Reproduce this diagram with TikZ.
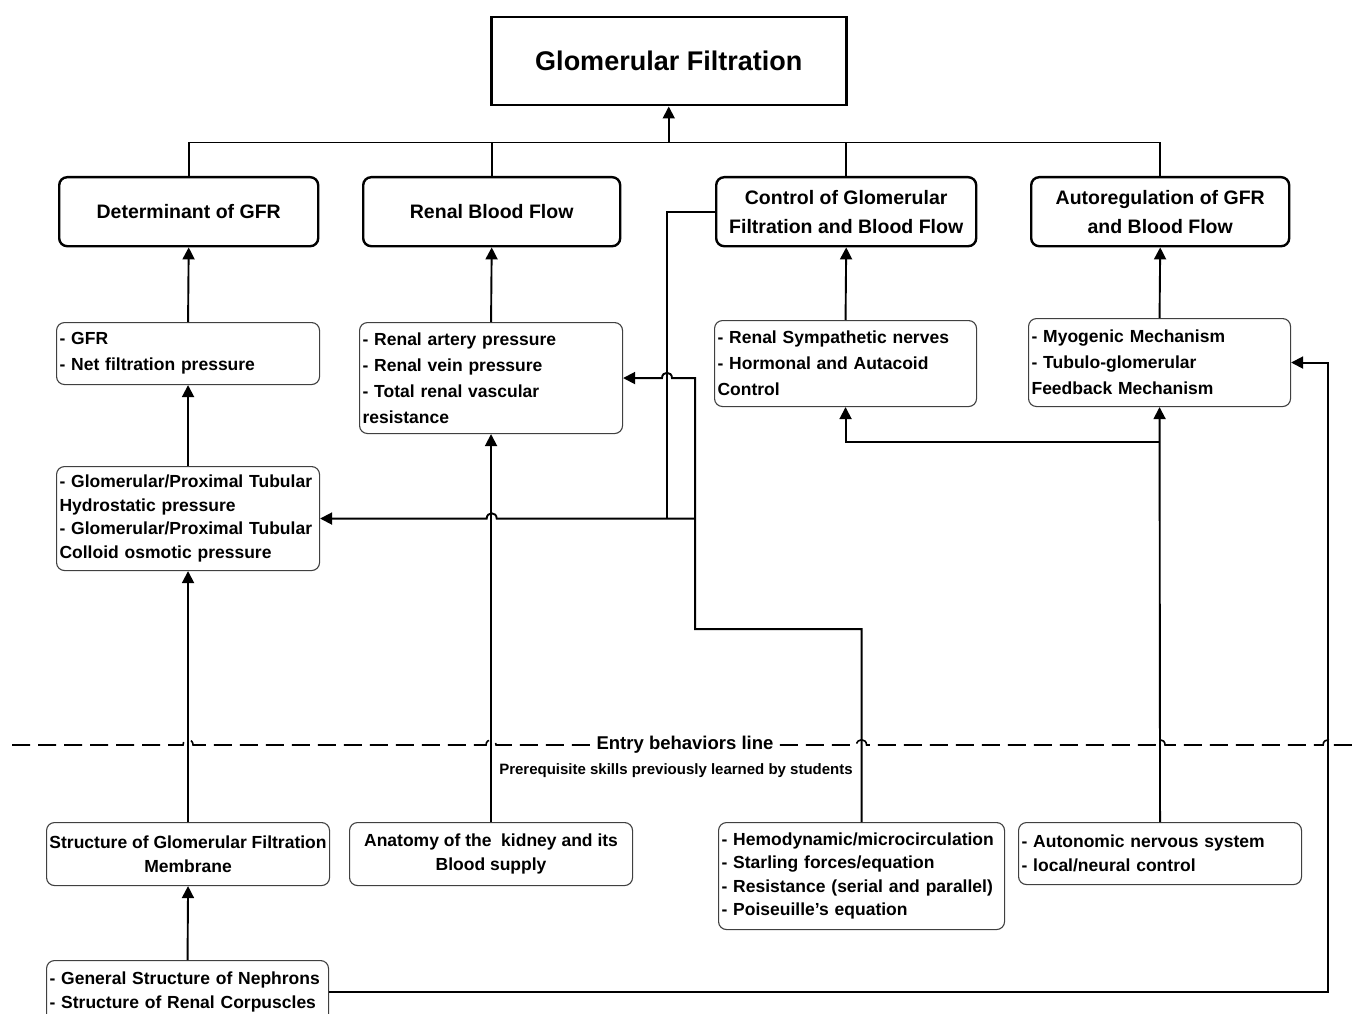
\documentclass[tikz,border=0pt]{standalone}
\usepackage{fontspec}
\setmainfont{Liberation Sans}
\usetikzlibrary{arrows.meta,calc}
\tikzset{
  titlebox/.style={draw, line width=2.5pt, anchor=north west, inner sep=0pt, align=center,
    font=\fontsize{27}{32}\selectfont\bfseries},
  topbox/.style={draw, line width=2.4pt, rounded corners=8pt, anchor=north west, inner sep=0pt,
    align=center, font=\fontsize{19.5}{29}\selectfont\bfseries},
  upbox/.style={draw=black!75, line width=1.1pt, rounded corners=8pt, anchor=north west,
    inner xsep=3pt, inner ysep=0pt, align=left, font=\fontsize{17.5}{26}\selectfont\bfseries},
  lowbox/.style={draw=black!75, line width=1.1pt, rounded corners=8pt, anchor=north west,
    inner xsep=3pt, inner ysep=0pt, align=left, font=\fontsize{17.5}{23.5}\selectfont\bfseries},
  conn/.style={line width=1.9pt},
  arr/.style={line width=1.9pt, -{Triangle[length=12pt,width=12pt]}},
  entryline/.style={line width=1.6pt, dash pattern=on 18pt off 8pt},
}
\begin{document}
\begin{tikzpicture}[x=1pt,y=-1pt]
\useasboundingbox (0,0) rectangle (1355,1014);
\clip (0,0) rectangle (1355,1014);

% ---- nodes
\node[titlebox, minimum width=355pt, minimum height=88pt] (title) at (490,16) {Glomerular Filtration};

\node[topbox, minimum width=259pt, minimum height=69pt] (det) at (58,176) {Determinant of GFR};
\node[topbox, minimum width=257pt, minimum height=69pt] (rbf) at (362,176) {Renal Blood Flow};
\node[topbox, minimum width=260pt, minimum height=69pt] (ctrl) at (715,176) {Control of Glomerular\\Filtration and Blood Flow};
\node[topbox, minimum width=258pt, minimum height=69pt] (auto) at (1030,176) {Autoregulation of GFR\\and Blood Flow};

\node[upbox, text width=257pt, minimum height=62pt] (gfr) at (56,322) {- GFR\\- Net filtration pressure};
\node[upbox, text width=257pt, minimum height=111pt] (rap) at (359,322) {- Renal artery pressure\\- Renal vein pressure\\- Total renal vascular\\resistance};
\node[upbox, text width=256pt, minimum height=86pt] (rsn) at (714,320) {- Renal Sympathetic nerves\\- Hormonal and Autacoid\\Control};
\node[upbox, text width=256pt, minimum height=88pt] (myo) at (1028,318) {- Myogenic Mechanism\\- Tubulo-glomerular\\Feedback Mechanism};

\node[lowbox, text width=257pt, minimum height=104pt] (glom) at (56,466) {- Glomerular/Proximal Tubular\\Hydrostatic pressure\\- Glomerular/Proximal Tubular\\Colloid osmotic pressure};

\node[lowbox, align=center, minimum width=283pt, minimum height=63pt, inner xsep=2pt] (sgfm) at (46,822) {Structure of Glomerular Filtration\\Membrane};
\node[lowbox, align=center, minimum width=283pt, minimum height=63pt] (anat) at (349,822) {Anatomy of the~\ kidney and its\\Blood supply};
\node[lowbox, text width=280pt, minimum height=107pt] (hemo) at (718,822) {- Hemodynamic/microcirculation\\- Starling forces/equation\\- Resistance (serial and parallel)\\- Poiseuille’s equation};
\node[lowbox, text width=277pt, minimum height=62pt] (ans) at (1018,822) {- Autonomic nervous system\\- local/neural control};
\node[lowbox, text width=276pt, minimum height=62pt, font=\fontsize{17.5}{24}\selectfont\bfseries] (gen) at (46,960) {- General Structure of Nephrons\\- Structure of Renal Corpuscles};

% ---- top bus
\coordinate (bus) at ($(title.south)+(0,36)$);
\draw[conn] (det.north) |- (bus) -| (auto.north);
\draw[conn] (rbf.north) -- (rbf.north |- bus);
\draw[conn] (ctrl.north) -- (ctrl.north |- bus);
\draw[arr] (bus) -- (title.south);

% ---- vertical arrows
\draw[arr] (gfr.north) -- (det.south);
\draw[arr] (glom.north) -- (gfr.south);
\draw[arr] (sgfm.north) -- (glom.south);
\draw[arr] (gen.north) -- (sgfm.south);
\draw[arr] (rap.north) -- (rbf.south);
\draw[arr] (anat.north) -- (rap.south);
\draw[arr] (rsn.north) -- (ctrl.south);
\draw[arr] (myo.north) -- (auto.south);
\draw[arr] (ans.north) -- (myo.south);

% ---- autonomic branch to renal sympathetic
\coordinate (j) at ($(myo.south)+(0,35)$);
\draw[arr] (j) -| (rsn.south);

% ---- control box side line
\coordinate (cv) at ($(ctrl.west)+(-48,0)$);
\draw[conn] (ctrl.west) -- (cv) -- (cv |- glom.east);

% ---- hemodynamic path
\coordinate (hx) at ($(rap.east)+(72,251)$);
\coordinate (hA) at (cv |- rap.east);
\coordinate (hB) at (rbf.south |- glom.east);
\draw[arr] (hemo.north) |- (hx) -- (hx |- rap.east) -- ($(hA)+(5,0)$) .. controls +(0,-7) and +(0,-7) .. ($(hA)+(-5,0)$) -- (rap.east);
\draw[arr] (hx |- glom.east) -- ($(hB)+(5,0)$) .. controls +(0,-7) and +(0,-7) .. ($(hB)+(-5,0)$) -- (glom.east);

% ---- general structure to myogenic
\coordinate (rc) at ($(myo.east)+(37,0)$);
\draw[arr] (gen.east) -| (rc) -- (myo.east);

% ---- entry behaviors line
\coordinate (dl) at (12,745);
\coordinate (dr) at (1352,745);
\coordinate (d1) at (sgfm.north |- dl);
\coordinate (d2) at (anat.north |- dl);
\coordinate (d3) at (hemo.north |- dl);
\coordinate (d4) at (ans.north |- dl);
\coordinate (d5) at (rc |- dl);
\draw[entryline] (dl)
  -- ($(d1)+(-5,0)$) .. controls +(0,-7) and +(0,-7) .. ($(d1)+(5,0)$)
  -- ($(d2)+(-5,0)$) .. controls +(0,-7) and +(0,-7) .. ($(d2)+(5,0)$)
  -- ($(d3)+(-5,0)$) .. controls +(0,-7) and +(0,-7) .. ($(d3)+(5,0)$)
  -- ($(d4)+(-5,0)$) .. controls +(0,-7) and +(0,-7) .. ($(d4)+(5,0)$)
  -- ($(d5)+(-5,0)$) .. controls +(0,-7) and +(0,-7) .. ($(d5)+(5,0)$)
  -- (dr);
\node[fill=white, inner xsep=1.5pt, inner ysep=1pt, font=\fontsize{18.5}{20}\selectfont\bfseries] (entry) at (685,745) {Entry behaviors line};
\node[font=\fontsize{15}{17}\selectfont\bfseries, inner sep=0pt] (prereq) at (676,771) {Prerequisite skills previously learned by students};
\end{tikzpicture}
\end{document}
